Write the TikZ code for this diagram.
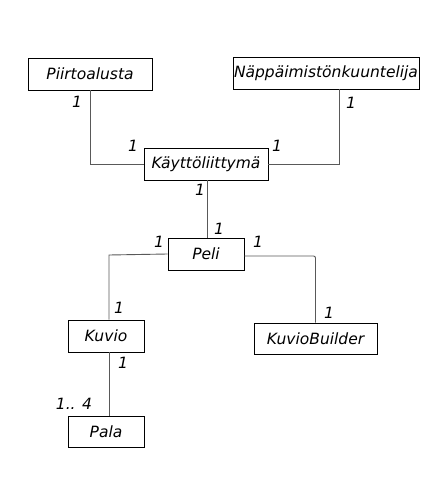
\documentclass[tikz,border=0pt]{standalone}
\usepackage{fontspec}
\setmainfont{DejaVu Sans}
\usepackage{tikz}
\usetikzlibrary{positioning,calc}

\begin{document}
\begin{tikzpicture}[
  x=1pt, y=-1pt,
  every node/.style={font=\fontsize{15.5}{17}\selectfont\itshape},
  luokka/.style={draw, line width=0.9pt, minimum height=32pt, inner sep=1pt,
    fill=white},
  yhteys/.style={draw=black!65, line width=0.9pt},
  kerroin/.style={inner sep=1pt}]
\useasboundingbox (0,0) rectangle (440,497);
\node[luokka, minimum width=124pt] (piirto) at (90,74) {Piirtoalusta};
\node[luokka, minimum width=184pt] (nappis) at (326,73) {Näppäimistönkuuntelija};
\node[luokka, minimum width=124pt] (kali) at (206,164) {Käyttöliittymä};
\node[luokka, minimum width=76pt] (peli) at (206,254) {Peli};
\node[luokka, minimum width=76pt] (kuvio) at (106,336) {Kuvio};
\node[luokka, minimum width=123pt, minimum height=31pt] (builder) at (315.5,338.5) {KuvioBuilder};
\node[luokka, minimum width=76pt, minimum height=31pt] (pala) at (106,431.5) {Pala};
% yhteydet
\draw[yhteys] (piirto.south) |- (kali.west);
\draw[yhteys] ([xshift=13pt]nappis.south) |- (kali.east);
\draw[yhteys] ([xshift=1pt]kali.south) -- ([xshift=1pt]peli.north);
\draw[yhteys] (peli.west) -- ([xshift=3pt]kuvio.north |- 0,255) -- ([xshift=3pt]kuvio.north);
\draw[yhteys, rounded corners=2pt] ([yshift=-2pt]peli.east) -| (builder.north);
\draw[yhteys] ([xshift=3pt]kuvio.south) -- ([xshift=3pt]pala.north);
% kertoimet
\node[kerroin] (k1) at (77,102) {1};
\node[kerroin] (k2) at (133,146) {1};
\node[kerroin] (k3) at (277,146) {1};
\node[kerroin] (k4) at (351,103) {1};
\node[kerroin] (k5) at (200,190) {1};
\node[kerroin] (k6) at (219,229) {1};
\node[kerroin] (k7) at (159,242) {1};
\node[kerroin] (k8) at (258,242) {1};
\node[kerroin] (k9) at (119,308) {1};
\node[kerroin] (k10) at (329,313) {1};
\node[kerroin] (k11) at (123,363) {1};
\node[kerroin] (k12) at (74,404) {1.. 4};
\end{tikzpicture}
\end{document}
